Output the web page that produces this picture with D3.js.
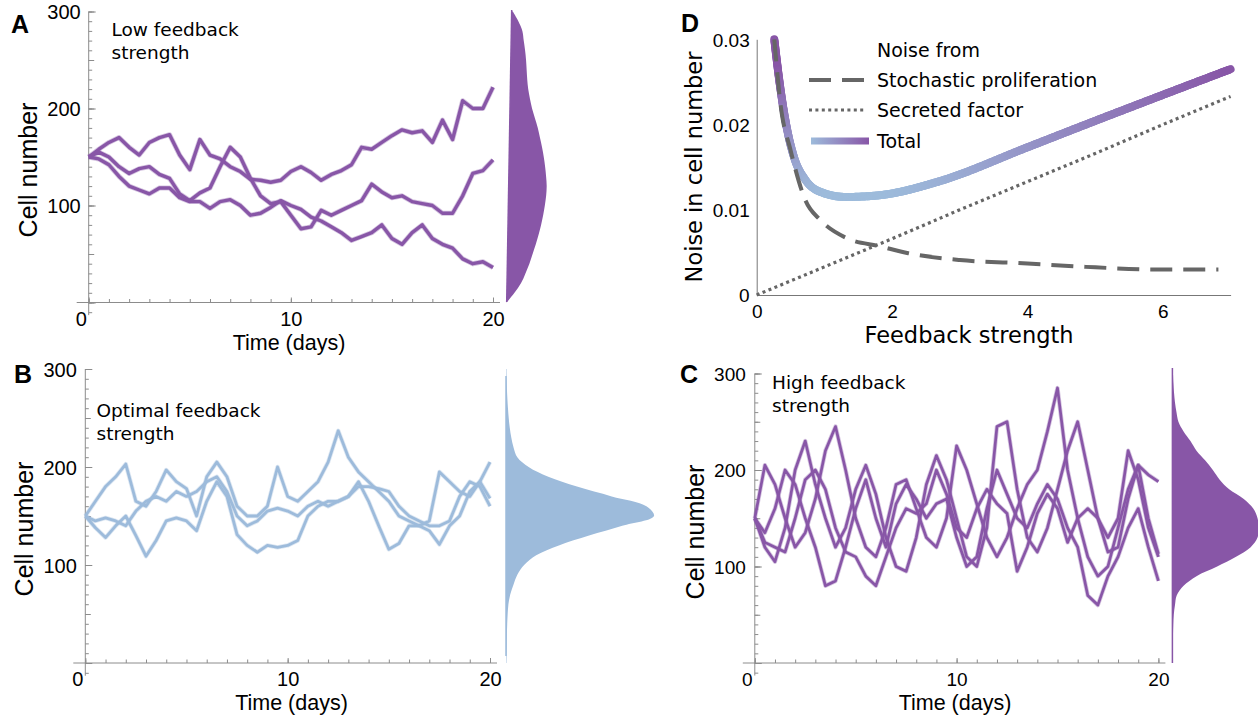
<!DOCTYPE html>
<html>
<head>
<meta charset="utf-8">
<script src="https://cdn.jsdelivr.net/npm/d3@7"></script>
<style>
  body { margin: 0; background: #fff; }
  svg text { font-family: "Liberation Sans", Arial, sans-serif; fill: #000; }
  svg text.note { font-family: "DejaVu Sans", sans-serif; }
</style>
</head>
<body>
<svg id="fig" width="1258" height="717"></svg>
<script>
// time grid (days)
const days = [0,0.5,1,1.5,2,2.5,3,3.5,4,4.5,5,5.5,6,6.5,7,7.5,8,8.5,9,9.5,10,
  10.5,11,11.5,12,12.5,13,13.5,14,14.5,15,15.5,16,16.5,17,17.5,18,18.5,19,19.5,20];

// A: low feedback strength, cell number
const lowA1 = [150,158,165,170,160,152,165,170,173,152,137,168,152,148,140,135,127,126,124,126,135,140,134,126,132,136,142,160,158,165,172,178,175,177,165,188,168,208,200,200,222];
const lowA2 = [150,155,150,140,133,138,140,132,128,112,105,113,118,140,160,150,128,110,102,104,90,76,78,95,90,95,100,105,122,114,108,110,104,102,100,92,92,110,133,136,147];
const lowA3 = [150,148,142,130,120,116,112,118,118,108,104,104,97,104,106,100,90,92,98,105,100,96,88,84,78,72,64,68,72,80,66,60,72,80,66,60,56,45,40,42,36];

// B: optimal feedback strength
const optB1 = [150,165,180,190,203,165,160,175,197,185,178,150,190,205,190,160,150,150,160,200,170,165,175,185,205,237,210,195,185,175,165,150,145,140,145,195,185,175,170,185,205];
const optB2 = [150,138,128,140,150,130,109,125,145,148,145,135,165,185,170,131,120,113,120,118,120,125,150,160,165,165,170,185,165,140,116,122,140,140,135,121,140,150,175,185,168];
const optB3 = [150,145,148,145,140,155,165,170,165,175,170,175,185,190,175,150,140,145,155,158,155,150,160,165,160,165,170,180,180,178,175,160,150,145,140,140,145,170,185,180,160];

// C: high feedback strength
const highC1 = [150,205,185,150,120,135,170,220,245,200,150,120,110,140,185,190,160,130,120,150,225,200,165,130,110,130,160,185,200,240,285,200,150,110,90,100,140,180,205,195,188];
const highC2 = [150,120,105,140,200,230,185,150,120,140,180,205,175,130,100,95,130,185,215,190,150,110,100,140,245,250,180,130,115,140,180,220,250,200,150,115,120,170,205,150,113];
const highC3 = [150,135,160,200,185,150,120,80,85,120,160,190,150,120,165,185,170,150,165,170,130,100,110,160,200,175,150,140,165,185,170,140,120,70,60,90,110,140,160,120,85];
const highC4 = [150,125,120,115,150,190,200,180,140,115,110,90,80,110,140,160,155,165,200,175,140,130,160,180,165,155,95,120,155,175,160,125,150,160,150,130,150,220,190,140,110];

// stationary distributions (relative density by cell number)
const densityLevels = [0,10,20,30,40,50,60,70,80,90,100,110,120,130,140,150,160,170,180,190,200,210,220,230,240,250,260,270,280,290,300];
const lowDensity = [0,0.2,0.37,0.48,0.58,0.66,0.74,0.81,0.87,0.92,0.96,0.99,1,0.98,0.95,0.91,0.86,0.8,0.74,0.66,0.58,0.52,0.47,0.44,0.42,0.4,0.37,0.33,0.29,0.18,0.03];
const optDensity = [0.003,0.004,0.005,0.006,0.008,0.011,0.016,0.028,0.05,0.075,0.12,0.2,0.35,0.55,0.77,0.98,0.93,0.7,0.47,0.28,0.15,0.075,0.05,0.035,0.025,0.018,0.013,0.009,0.006,0.004,0.003];
const highDensity = [0.003,0.005,0.006,0.007,0.01,0.016,0.03,0.05,0.13,0.28,0.52,0.74,0.91,0.99,1,0.99,0.94,0.83,0.66,0.55,0.47,0.38,0.28,0.21,0.13,0.07,0.047,0.03,0.019,0.012,0.007];

// D: noise versus feedback strength
const prolifX = [0.26,0.35,0.5,0.72,0.94,1.32,1.83,2.24,3.0,4.0,4.86,5.94,6.82];
const prolifNoise = [0.0300,0.0225,0.0170,0.0111,0.0088,0.0067,0.0057,0.0049,0.0041,0.0037,0.0033,0.0030,0.0030];
const secretedX = [0,1,2,3,4,5,6,7];
const secretedNoise = [0,0.0033,0.0066,0.0100,0.0133,0.0166,0.0200,0.0233];
const totalX = [0.26,0.34,0.45,0.55,0.72,0.94,1.32,1.81,2.68,3.99,4.86,5.94,7.0];
const totalNoise = [0.0300,0.0248,0.0194,0.0162,0.0135,0.0121,0.0115,0.0117,0.0133,0.0173,0.0200,0.0233,0.0265];

const legendLabels = ["Stochastic proliferation", "Secreted factor", "Total"];

const purple = "#8856a7";
const lightBlue = "#9dbbdb";
const axisGray = "#8c8c8c";

const svg = d3.select("#fig");
svg.append("rect").attr("width", 1258).attr("height", 717).attr("fill", "#fff");

function panelLetter(letter, x, y) {
  svg.append("text").attr("x", x).attr("y", y)
    .style("font-size", "25px").style("font-weight", "bold")
    .text(letter);
}

function timePanel(o) {
  const g = svg.append("g");
  const x = d3.scaleLinear().domain([0, 20]).range([o.left, o.right]);
  const y = d3.scaleLinear().domain([0, 300]).range([o.zero, o.top]);

  // stationary distribution on the right
  const base = d3.scaleLinear().domain([o.densTop, o.densBottom]).range([o.baseTop, o.baseBottom]);
  const w = d3.scaleLinear().domain([0, 1]).range([0, o.densWidth]);
  const area = d3.area()
    .curve(d3.curveCatmullRom)
    .y((d) => y(d[0]))
    .x0((d) => base(y(d[0])))
    .x1((d) => base(y(d[0])) + w(d[1]));
  g.append("line")
    .attr("x1", o.baseTop).attr("y1", o.densTop)
    .attr("x2", o.baseBottom).attr("y2", o.densBottom)
    .attr("stroke", o.color).attr("stroke-width", 1.5);
  g.append("path")
    .datum(d3.zip(densityLevels, o.density))
    .attr("d", area)
    .attr("fill", o.color);

  // y axis (ticks point inward)
  const yAxisG = g.append("g").attr("transform", `translate(${o.left},0)`);
  yAxisG.append("line")
    .attr("x1", 0).attr("x2", 0)
    .attr("y1", y(-13)).attr("y2", y(300))
    .attr("stroke", axisGray);
  const tickSets = [
    { values: d3.range(-10, 301, 10), size: 3.5 },
    { values: d3.range(0, 301, 50), size: 5.5 },
    { values: [0, 100, 200, 300], size: 7 }
  ];
  tickSets.forEach((t) => {
    yAxisG.append("g")
      .call(d3.axisLeft(y).tickValues(t.values).tickSize(-t.size).tickSizeOuter(0).tickFormat(""))
      .call((s) => s.select(".domain").remove())
      .call((s) => s.selectAll("line").attr("stroke", axisGray));
  });
  yAxisG.append("g")
    .call(d3.axisLeft(y).tickValues([100, 200, 300]).tickSize(0).tickPadding(o.yPad))
    .call((s) => s.select(".domain").remove())
    .call((s) => s.selectAll("text").style("font-size", o.tickFont + "px").attr("dy", "0.36em"));

  // x axis
  const xAxisG = g.append("g").attr("transform", `translate(0,${o.zero})`);
  xAxisG.append("line")
    .attr("x1", o.left - 12).attr("x2", o.right + 7)
    .attr("stroke", axisGray);
  xAxisG.append("g")
    .call(d3.axisBottom(x).tickValues(d3.range(0, 21, 1)).tickSize(-3.5).tickFormat(""))
    .call((s) => s.select(".domain").remove())
    .call((s) => s.selectAll("line").attr("stroke", axisGray));
  xAxisG.append("g")
    .call(d3.axisBottom(x).tickValues([0, 10, 20]).tickSize(-5).tickFormat(d3.format("d")))
    .call((s) => s.select(".domain").remove())
    .call((s) => s.selectAll("line").attr("stroke", axisGray))
    .call((s) => s.selectAll("text")
      .style("font-size", o.tickFont + "px")
      .attr("y", o.tickBase - o.zero).attr("dy", null)
      .attr("dx", (d) => (d === 0 ? -8 : 0)));

  // trajectories: soft halo first, then the solid line
  const line = d3.line().x((d, i) => x(days[i])).y((d) => y(d));
  const traj = g.append("g");
  traj.selectAll("path.halo")
    .data(o.series)
    .join("path")
    .attr("class", "halo")
    .attr("d", line)
    .attr("fill", "none")
    .attr("stroke", o.color)
    .attr("stroke-opacity", 0.35)
    .attr("stroke-width", o.lineWidth + 1.6)
    .attr("stroke-linejoin", "round");
  traj.selectAll("path.main")
    .data(o.series)
    .join("path")
    .attr("class", "main")
    .attr("d", line)
    .attr("fill", "none")
    .attr("stroke", o.color)
    .attr("stroke-width", o.lineWidth)
    .attr("stroke-linejoin", "round");

  // titles
  g.append("text")
    .attr("transform", `translate(${o.yTitleX},${o.yTitleY}) rotate(-90)`)
    .attr("text-anchor", "middle")
    .style("font-size", "25px")
    .text("Cell number");
  g.append("text")
    .attr("x", o.xTitleX).attr("y", o.xTitleY)
    .attr("text-anchor", "middle")
    .style("font-size", "21.5px")
    .text("Time (days)");
  const note = g.append("text").attr("class", "note")
    .attr("x", o.noteX).attr("y", o.noteY)
    .style("font-size", "18.5px");
  o.note.forEach((t, i) => {
    note.append("tspan").attr("x", o.noteX).attr("dy", i === 0 ? 0 : 22.5).text(t);
  });
}

timePanel({
  left: 88.7, right: 493, zero: 302.5, top: 11.5,
  color: purple, lineWidth: 3.4,
  series: [lowA1, lowA2, lowA3],
  density: lowDensity, densTop: 10, densBottom: 302, baseTop: 511.7, baseBottom: 506.7, densWidth: 38,
  tickFont: 20, yPad: 8, tickBase: 325.5,
  yTitleX: 37, yTitleY: 170, xTitleX: 289, xTitleY: 349.5,
  note: ["Low feedback", "strength"], noteX: 111.5, noteY: 36
});

timePanel({
  left: 85.3, right: 490, zero: 663, top: 369,
  color: lightBlue, lineWidth: 2.8,
  series: [optB1, optB2, optB3],
  density: optDensity, densTop: 376, densBottom: 656, baseTop: 506, baseBottom: 506, densWidth: 151,
  tickFont: 20, yPad: 8.5, tickBase: 685.5,
  yTitleX: 33, yTitleY: 529, xTitleX: 291.5, xTitleY: 709.5,
  note: ["Optimal feedback", "strength"], noteX: 96.5, noteY: 417
});

timePanel({
  left: 754.8, right: 1158.4, zero: 663, top: 373.5,
  color: purple, lineWidth: 2.7,
  series: [highC1, highC2, highC3, highC4],
  density: highDensity, densTop: 368, densBottom: 663, baseTop: 1172.4, baseBottom: 1172.4, densWidth: 86,
  tickFont: 19, yPad: 9, tickBase: 685.5,
  yTitleX: 704, yTitleY: 532, xTitleX: 955, xTitleY: 709.5,
  note: ["High feedback", "strength"], noteX: 772, noteY: 389
});

// ---- panel D ----
(function () {
  const g = svg.append("g");
  const x = d3.scaleLinear().domain([0, 7]).range([756.7, 1230.6]);
  const y = d3.scaleLinear().domain([0, 0.03]).range([295, 39.3]);

  g.append("g").attr("transform", "translate(0,295)")
    .call(d3.axisBottom(x).tickValues([0, 2, 4, 6]).tickSize(0).tickSizeOuter(0).tickFormat(d3.format("d")))
    .call((s) => s.select(".domain").attr("stroke", "#777"))
    .call((s) => s.selectAll("text").style("font-size", "19px").attr("y", 23).attr("dy", null));
  g.append("g").attr("transform", "translate(756.7,0)")
    .call(d3.axisLeft(y).tickValues([0, 0.01, 0.02, 0.03]).tickSize(0).tickSizeOuter(0).tickPadding(7)
      .tickFormat((d) => (d === 0 ? "0" : d3.format(".2f")(d))))
    .call((s) => s.select(".domain").attr("stroke", "#777"))
    .call((s) => s.selectAll("text").style("font-size", "19px").attr("dy", "0.36em"));

  g.append("text").attr("class", "note")
    .attr("transform", "translate(702,167) rotate(-90)")
    .attr("text-anchor", "middle").style("font-size", "22.5px")
    .text("Noise in cell number");
  g.append("text").attr("class", "note")
    .attr("x", 969).attr("y", 343)
    .attr("text-anchor", "middle").style("font-size", "22.5px")
    .text("Feedback strength");

  const secretedLine = d3.line().x((d, i) => x(secretedX[i])).y((d) => y(d));
  g.append("path").datum(secretedNoise).attr("d", secretedLine)
    .attr("fill", "none").attr("stroke", "#666").attr("stroke-width", 3.2)
    .attr("stroke-dasharray", "3 3.4");

  // total noise, coloured by its value
  const totalLine = d3.line().curve(d3.curveMonotoneX).x((d, i) => x(totalX[i])).y((d) => y(d));
  const probe = g.append("path").datum(totalNoise).attr("d", totalLine).attr("fill", "none").attr("stroke", "none");
  const node = probe.node();
  const len = node.getTotalLength();
  const colour = d3.scaleLinear().domain([0.0118, 0.0265]).range([lightBlue, purple])
    .interpolate(d3.interpolateRgb).clamp(true);
  const steps = 400;
  const pts = d3.range(steps + 1).map((i) => node.getPointAtLength((len * i) / steps));
  const segG = g.append("g");
  for (let i = 0; i < steps; i++) {
    const a = pts[i], b = pts[i + 1];
    segG.append("line")
      .attr("x1", a.x).attr("y1", a.y).attr("x2", b.x).attr("y2", b.y)
      .attr("stroke", colour(y.invert((a.y + b.y) / 2)))
      .attr("stroke-width", 8).attr("stroke-linecap", "round");
  }

  const prolifLine = d3.line().curve(d3.curveMonotoneX).x((d, i) => x(prolifX[i])).y((d) => y(d));
  g.append("path").datum(prolifNoise).attr("d", prolifLine)
    .attr("fill", "none").attr("stroke", "#666").attr("stroke-width", 4)
    .attr("stroke-dasharray", "22 11");

  // legend
  const defs = svg.append("defs");
  const grad = defs.append("linearGradient").attr("id", "totalGrad");
  grad.append("stop").attr("offset", "0%").attr("stop-color", lightBlue);
  grad.append("stop").attr("offset", "100%").attr("stop-color", purple);

  const lg = g.append("g");
  lg.append("text").attr("class", "note").attr("x", 877).attr("y", 57).style("font-size", "19px").text("Noise from");
  const rows = [
    { y: 80, dash: "22 11", width: 4, stroke: "#666" },
    { y: 110, dash: "3 3.4", width: 3.2, stroke: "#666" },
    { y: 141, dash: null, width: 7, stroke: "url(#totalGrad)" }
  ];
  rows.forEach((r, i) => {
    if (i === 2) {
      lg.append("rect").attr("x", 811).attr("y", r.y - 3.5).attr("width", 58).attr("height", 7).attr("fill", r.stroke);
    } else {
      lg.append("line").attr("x1", 809).attr("x2", 866).attr("y1", r.y).attr("y2", r.y)
        .attr("stroke", r.stroke).attr("stroke-width", r.width).attr("stroke-dasharray", r.dash);
    }
    lg.append("text").attr("class", "note").attr("x", 877).attr("y", r.y + 7)
      .style("font-size", "19px").text(legendLabels[i]);
  });
}());

panelLetter("A", 11, 33);
panelLetter("B", 14, 383);
panelLetter("C", 680, 383);
panelLetter("D", 681, 32);
</script>
</body>
</html>
